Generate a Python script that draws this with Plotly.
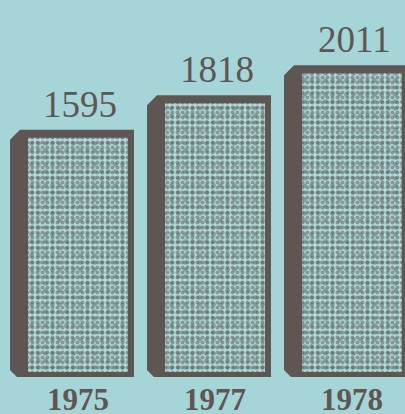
import plotly.graph_objects as go

# ---- data ----
years = ["1975", "1977", "1978"]
values = [1595, 1818, 2011]

# ---- style ----
BG = "#a6d5d7"
INK = "#5d5652"
W, H = 405, 414
BOTTOM = 37
plot_h = H - BOTTOM
y_max = 2432
ux = 1 / 137.0          # x data units per pixel
uy = y_max / plot_h     # y data units per pixel
CENTER0 = 78            # pixel position of first category

x = list(range(len(years)))

fig = go.Figure()

# outer dark frame (3D box)
fig.add_bar(
    x=x, y=values, width=124 * ux, offset=-68 * ux,
    marker=dict(color=INK, line_width=0), hoverinfo="skip",
)

# inner speckled face (two overlaid dot patterns give an irregular speckle)
inner_base = 5 * uy
inner_len = [v - inner_base - 8 * uy for v in values]
fig.add_bar(
    x=x, y=inner_len, base=inner_base, width=100 * ux, offset=-50 * ux,
    marker=dict(color=BG, line_width=0,
                pattern=dict(shape=".", fgcolor=INK, bgcolor="#acdcdd", size=5, solidity=0.5)),
    hoverinfo="skip",
)
fig.add_bar(
    x=x, y=inner_len, base=inner_base, width=100 * ux, offset=-50 * ux,
    marker=dict(color="rgba(0,0,0,0)", line_width=0,
                pattern=dict(shape=".", fgcolor=INK, bgcolor="rgba(0,0,0,0)",
                             size=7, solidity=0.35, fillmode="overlay")),
    hoverinfo="skip",
)

# chamfered left corners (background coloured cut-outs)
cx, cy = [], []
for i, v in zip(x, values):
    xl = i - 68 * ux
    cx += [xl - 2 * ux, xl + 12 * ux, xl - 2 * ux, xl - 2 * ux, None]
    cy += [v + 2 * uy, v + 2 * uy, v - 12 * uy, v + 2 * uy, None]
    cx += [xl - 2 * ux, xl + 9 * ux, xl - 2 * ux, xl - 2 * ux, None]
    cy += [-2 * uy, -2 * uy, 9 * uy, -2 * uy, None]
fig.add_scatter(x=cx, y=cy, mode="lines", fill="toself", fillcolor=BG,
                line=dict(width=0, color=BG), hoverinfo="skip")

# value labels
for i, v in zip(x, values):
    fig.add_annotation(x=i, y=v, text=str(v), showarrow=False, yanchor="bottom",
                       yshift=3, xshift=2,
                       font=dict(family="Liberation Serif", size=37, color=INK))

fig.update_layout(
    width=W, height=H, barmode="overlay", showlegend=False,
    margin=dict(l=0, r=0, t=0, b=BOTTOM),
    paper_bgcolor=BG, plot_bgcolor=BG,
    xaxis=dict(range=[-CENTER0 * ux, (W - CENTER0) * ux], tickvals=x, ticktext=years,
               showgrid=False, zeroline=False, showline=False, ticks="",
               automargin=False, ticklabelstandoff=1,
               tickfont=dict(family="Liberation Serif", size=31, color=INK,
                             weight="bold"),
               fixedrange=True),
    yaxis=dict(range=[0, y_max], visible=False, fixedrange=True),
)

fig.write_html("out.html", post_script="document.body.style.margin='0';",
               config={"displayModeBar": False})
